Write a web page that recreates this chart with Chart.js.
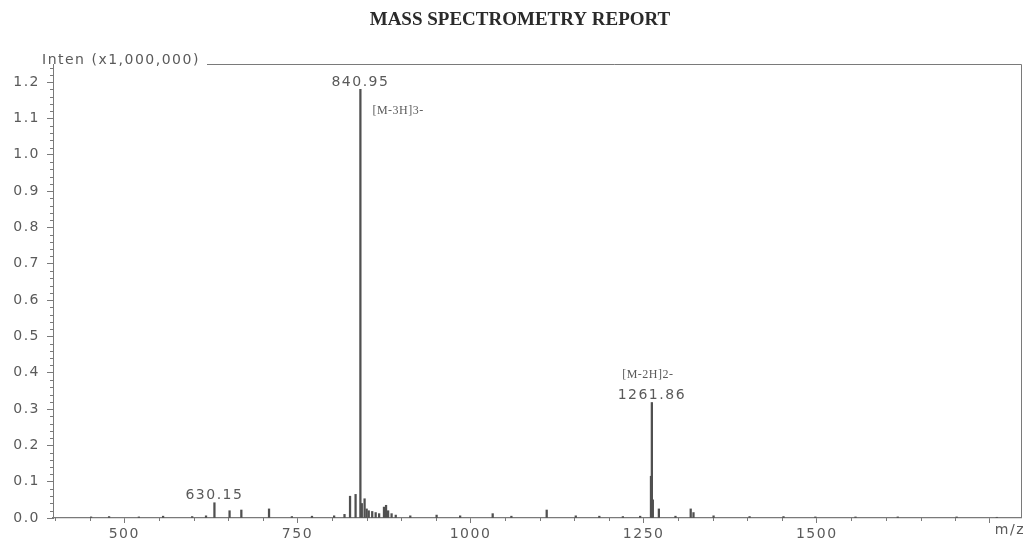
<!DOCTYPE html>
<html>
<head>
<meta charset="utf-8">
<script src="https://cdn.jsdelivr.net/npm/chart.js@4.4.1/dist/chart.umd.min.js"></script>
<style>
  html, body { margin: 0; padding: 0; background: #fff; }
  #espectro { display: block; }
</style>
</head>
<body>
<canvas id="espectro" width="1026" height="544"></canvas>
<script>
// ===============================
// DADOS DO ESPECTRO
// ===============================
const mzPicos = [452, 478, 521, 556, 598, 618, 630.15, 652, 669, 709, 742, 771, 803, 818,
  826, 834, 840.95, 843, 847, 850, 853, 858, 863, 868, 875, 878, 881, 886, 892, 913, 951,
  985, 1032, 1059, 1110, 1152, 1186, 1220, 1245, 1260.6, 1261.86, 1263.3, 1272, 1296,
  1318, 1322, 1351, 1403, 1452, 1498, 1556, 1617, 1702, 1760];
const intensidades = [0.003, 0.004, 0.003, 0.005, 0.004, 0.006, 0.042, 0.02, 0.022, 0.025,
  0.004, 0.005, 0.006, 0.01, 0.06, 0.065, 1.18, 0.04, 0.053, 0.025, 0.02, 0.018, 0.015,
  0.012, 0.03, 0.035, 0.02, 0.012, 0.008, 0.006, 0.008, 0.006, 0.012, 0.005, 0.022, 0.006,
  0.005, 0.004, 0.005, 0.115, 0.318, 0.05, 0.025, 0.005, 0.025, 0.015, 0.006, 0.004, 0.004,
  0.003, 0.003, 0.003, 0.003, 0.002];

const picosRotulados = [630.15, 840.95, 1261.86];
const rotulosPicos = ['630.15', '840.95', '1261.86'];
const rotulosIons = ['', '[M-3H]3-', '[M-2H]2-'];

const ticksY = [0.0, 0.1, 0.2, 0.3, 0.4, 0.5, 0.6, 0.7, 0.8, 0.9, 1.0, 1.1, 1.2];
const ticksX = [500, 750, 1000, 1250, 1500, 1750];
const rotulosX = ['500', '750', '1000', '1250', '1500', ''];

const titulo = 'MASS SPECTROMETRY REPORT';
const tituloEixoY = 'Inten (x1,000,000)';
const tituloEixoX = 'm/z';

const FONTE = '"DejaVu Sans", sans-serif';
const COR_TEXTO = '#5a5a5a';
const COR_EIXO = '#7a7a7a';

// ===============================
// PLUGIN: textos, ticks menores e moldura
// ===============================
const pluginRelatorio = {
  id: 'relatorio',
  beforeDraw(chart) {
    chart.ctx.letterSpacing = '1.5px';
  },
  afterDraw(chart) {
    const { ctx, chartArea: a, scales: { x, y } } = chart;
    ctx.save();

    // ticks menores
    ctx.strokeStyle = COR_EIXO;
    ctx.lineWidth = 1;
    ctx.beginPath();
    for (let v = 0.02; v < 1.25; v += 0.02) {
      if (Math.abs(v * 10 - Math.round(v * 10)) < 1e-6) continue;
      const py = Math.round(y.getPixelForValue(v)) + 0.5;
      ctx.moveTo(a.left - 3, py);
      ctx.lineTo(a.left, py);
    }
    for (let v = 400; v < 1800; v += 50) {
      if (v % 250 === 0) continue;
      const px = Math.round(x.getPixelForValue(v)) + 0.5;
      ctx.moveTo(px, a.bottom);
      ctx.lineTo(px, a.bottom + 3);
    }
    ctx.stroke();

    // moldura (topo a partir do rótulo e lado direito)
    ctx.beginPath();
    ctx.moveTo(207, a.top + 0.5);
    ctx.lineTo(a.right + 0.5, a.top + 0.5);
    ctx.lineTo(a.right + 0.5, a.bottom);
    ctx.stroke();

    // título
    ctx.letterSpacing = '0px';
    ctx.fillStyle = '#2a2a2a';
    ctx.font = 'bold 19px "Liberation Serif", serif';
    ctx.textAlign = 'center';
    ctx.textBaseline = 'middle';
    ctx.fillText(titulo, 520, 20);

    // títulos dos eixos
    ctx.letterSpacing = '1.5px';
    ctx.fillStyle = COR_TEXTO;
    ctx.font = '14px ' + FONTE;
    ctx.textAlign = 'left';
    ctx.fillText(tituloEixoY, 42, 60);
    ctx.textAlign = 'right';
    ctx.fillText(tituloEixoX, 1025, 530);

    // rótulos dos picos
    picosRotulados.forEach((mz, i) => {
      const k = mzPicos.indexOf(mz);
      const px = x.getPixelForValue(mz);
      const topo = y.getPixelForValue(intensidades[k]);
      ctx.letterSpacing = '1.5px';
      ctx.font = '14px ' + FONTE;
      ctx.textAlign = 'center';
      ctx.fillText(rotulosPicos[i], px, topo - 7);
      if (!rotulosIons[i]) return;
      ctx.letterSpacing = '0.5px';
      ctx.font = '12px "Liberation Serif", serif';
      if (i === 1) {
        ctx.textAlign = 'left';
        ctx.fillText(rotulosIons[i], px + 12, topo + 21);
      } else {
        ctx.textAlign = 'center';
        ctx.fillText(rotulosIons[i], px - 4, topo - 28);
      }
    });

    ctx.restore();
  }
};

// ===============================
// GRÁFICO
// ===============================
const canvas = document.getElementById('espectro');

new Chart(canvas, {
  type: 'bar',
  data: {
    datasets: [{
      label: 'Intensidade',
      data: mzPicos.map((mz, i) => ({ x: mz, y: intensidades[i] })),
      backgroundColor: '#505050',
      borderWidth: 0,
      barThickness: 1.6
    }]
  },
  options: {
    responsive: false,
    animation: false,
    devicePixelRatio: 1,
    layout: { padding: { top: 64, right: 5, left: 0, bottom: 0 } },
    plugins: {
      legend: { display: false },
      tooltip: { enabled: false }
    },
    scales: {
      x: {
        type: 'linear',
        min: 397,
        max: 1795,
        offset: false,
        afterFit: s => { s.height = 26; },
        afterBuildTicks: s => { s.ticks = ticksX.map(v => ({ value: v })); },
        ticks: {
          autoSkip: false,
          maxRotation: 0,
          padding: 3,
          color: COR_TEXTO,
          font: { family: FONTE, size: 14 },
          callback: v => rotulosX[ticksX.indexOf(v)] ?? ''
        },
        grid: { display: true, drawOnChartArea: false, offset: false, tickLength: 5, color: COR_EIXO },
        border: { display: true, color: COR_EIXO, width: 1.2 }
      },
      y: {
        min: 0,
        max: 1.25,
        afterFit: s => { s.width = 53; },
        afterBuildTicks: s => { s.ticks = ticksY.map(v => ({ value: v })); },
        ticks: {
          autoSkip: false,
          padding: 7,
          color: COR_TEXTO,
          font: { family: FONTE, size: 14 },
          callback: v => Number(v).toFixed(1)
        },
        grid: { display: true, drawOnChartArea: false, tickLength: 6, color: COR_EIXO },
        border: { display: true, color: COR_EIXO, width: 1 }
      }
    }
  },
  plugins: [pluginRelatorio]
});
</script>
</body>
</html>
